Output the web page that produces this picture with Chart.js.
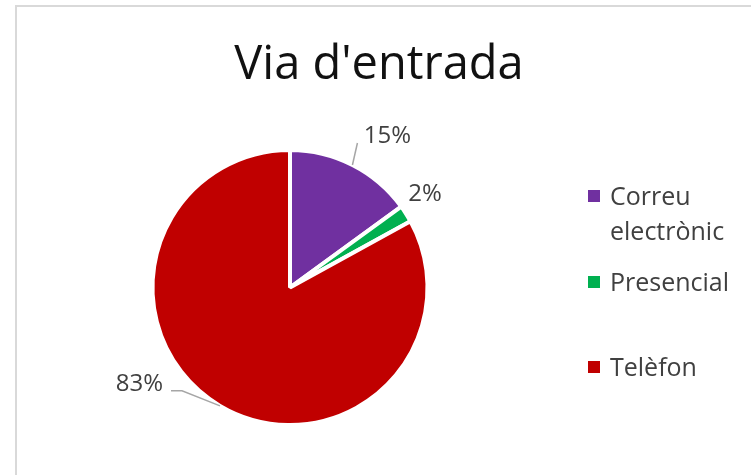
<!DOCTYPE html>
<html>
<head>
<meta charset="utf-8">
<script src="https://cdn.jsdelivr.net/npm/chart.js@4"></script>
<style>
  html, body { margin: 0; padding: 0; background: #ffffff; }
  #wrap { position: relative; width: 751px; height: 475px; }
  canvas { display: block; }
</style>
</head>
<body>
<div id="wrap"><canvas id="c" width="751" height="475"></canvas></div>
<script>
const chartTitle = "Via d'entrada";
const categories = ['Correu electrònic', 'Presencial', 'Telèfon'];
const values = [15, 2, 83];
const percentLabels = ['15%', '2%', '83%'];
const colors = ['#7030A0', '#00B050', '#C00000'];

const FONT = '"Open Sans", "Noto Sans", sans-serif';

const decorPlugin = {
  id: 'decor',
  beforeDraw(chart) {
    const ctx = chart.ctx;
    ctx.save();
    ctx.fillStyle = '#ffffff';
    ctx.fillRect(0, 0, chart.width, chart.height);
    // outer frame
    ctx.strokeStyle = '#d9d9d9';
    ctx.lineWidth = 2;
    ctx.beginPath();
    ctx.moveTo(16, chart.height + 2);
    ctx.lineTo(16, 6);
    ctx.lineTo(chart.width + 2, 6);
    ctx.stroke();
    ctx.restore();
  },
  afterDraw(chart) {
    const ctx = chart.ctx;
    ctx.save();
    // title
    ctx.fillStyle = '#111111';
    ctx.font = '47px ' + FONT;
    ctx.textAlign = 'center';
    ctx.textBaseline = 'alphabetic';
    ctx.fillText(chartTitle, 379, 79);

    // data labels with leader lines, anchored to each arc's edge
    const meta = chart.getDatasetMeta(0);
    const offsets = [
      { dx: 35, dy: -22, leader: [[5, -22]] },
      { dx: 19, dy: -13, leader: null },
      { dx: -80.5, dy: -15, leader: [[-38, -15], [-49, -15]] }
    ];
    ctx.font = '24px ' + FONT;
    meta.data.forEach((arc, i) => {
      const p = arc.getProps(['x', 'y', 'startAngle', 'endAngle', 'outerRadius'], true);
      const mid = (p.startAngle + p.endAngle) / 2;
      const ex = p.x + Math.cos(mid) * p.outerRadius;
      const ey = p.y + Math.sin(mid) * p.outerRadius;
      const o = offsets[i];
      if (o.leader) {
        ctx.strokeStyle = '#a6a6a6';
        ctx.lineWidth = 1.5;
        ctx.beginPath();
        ctx.moveTo(ex, ey);
        o.leader.forEach(pt => ctx.lineTo(ex + pt[0], ey + pt[1]));
        ctx.stroke();
      }
      ctx.fillStyle = '#404040';
      ctx.textAlign = 'center';
      ctx.fillText(percentLabels[i], ex + o.dx, ey + o.dy);
    });

    // legend
    const legendX = 588, textX = 610, maxW = 135, lineH = 35;
    const baselines = [205, 291, 376];
    ctx.font = '25px ' + FONT;
    ctx.textAlign = 'left';
    categories.forEach((name, i) => {
      const words = name.split(' ');
      const lines = [];
      let cur = '';
      words.forEach(w => {
        const t = cur ? cur + ' ' + w : w;
        if (cur && ctx.measureText(t).width > maxW) { lines.push(cur); cur = w; }
        else cur = t;
      });
      if (cur) lines.push(cur);
      const b = baselines[i];
      ctx.fillStyle = colors[i];
      ctx.fillRect(legendX, b - 15, 12, 12);
      ctx.fillStyle = '#404040';
      lines.forEach((ln, k) => ctx.fillText(ln, textX, b + k * lineH));
    });
    ctx.restore();
  }
};

new Chart(document.getElementById('c'), {
  type: 'pie',
  data: {
    labels: categories,
    datasets: [{
      data: values,
      backgroundColor: colors,
      borderColor: '#ffffff',
      borderWidth: 4
    }]
  },
  options: {
    responsive: false,
    animation: false,
    devicePixelRatio: 1,
    layout: { padding: { left: 150.5, right: 321.5, top: 148, bottom: 48 } },
    plugins: {
      legend: { display: false },
      title: { display: false },
      tooltip: { enabled: false }
    }
  },
  plugins: [decorPlugin]
});
</script>
</body>
</html>
